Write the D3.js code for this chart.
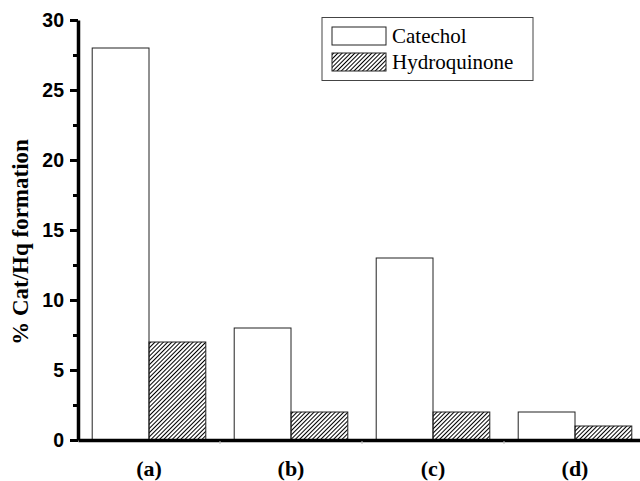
<!DOCTYPE html>
<html>
<head>
<meta charset="utf-8">
<script src="https://cdn.jsdelivr.net/npm/d3@7"></script>
<style>
  body { margin: 0; background: #fff; }
  svg { display: block; }
</style>
</head>
<body>
<div id="chart"></div>
<script>
// data
var categories = ["(a)", "(b)", "(c)", "(d)"];
var series = ["Catechol", "Hydroquinone"];
var catechol = [28, 8, 13, 2];
var hydroquinone = [7, 2, 2, 1];
var yTicks = [0, 5, 10, 15, 20, 25, 30];
var yMinorTicks = [2.5, 7.5, 12.5, 17.5, 22.5, 27.5];

var W = 640, H = 481;
var x0Left = 78, yBottom = 440, yTop = 20;

var svg = d3.select("#chart")
  .append("svg")
  .attr("width", W)
  .attr("height", H);

// hatch for Hydroquinone
var defs = svg.append("defs");
defs.append("pattern")
  .attr("id", "hatch")
  .attr("patternUnits", "userSpaceOnUse")
  .attr("width", 3)
  .attr("height", 3)
  .attr("patternTransform", "rotate(45)")
  .append("line")
  .attr("x1", 0.5).attr("y1", 0)
  .attr("x2", 0.5).attr("y2", 3)
  .attr("stroke", "#000")
  .attr("stroke-width", 1);

var y = d3.scaleLinear()
  .domain([0, 30])
  .range([yBottom, yTop]);

// groups, the last one runs past the right edge like in the original
var x = d3.scaleBand()
  .domain(categories)
  .range([x0Left, x0Left + 568])
  .paddingInner(0.2)
  .paddingOuter(0.1);

var xSub = d3.scaleBand()
  .domain(series)
  .range([0, x.bandwidth()]);

var fills = {"Catechol": "#fff", "Hydroquinone": "url(#hatch)"};
var values = {"Catechol": catechol, "Hydroquinone": hydroquinone};

// bars
series.forEach(function(s) {
  svg.append("g")
    .selectAll("rect")
    .data(categories)
    .enter()
    .append("rect")
    .attr("x", function(d) { return x(d) + xSub(s); })
    .attr("y", function(d, i) { return y(values[s][i]); })
    .attr("width", xSub.bandwidth())
    .attr("height", function(d, i) { return y(0) - y(values[s][i]); })
    .attr("fill", fills[s])
    .attr("stroke", "#222")
    .attr("stroke-width", 1);
});

// y axis
var yAxis = svg.append("g")
  .attr("transform", "translate(" + x0Left + ",0)")
  .call(d3.axisLeft(y).tickValues(yTicks).tickSize(8).tickSizeOuter(0).tickPadding(6));
yAxis.select(".domain").attr("stroke-width", 3.5);
yAxis.selectAll(".tick line").attr("stroke-width", 3);
yAxis.selectAll("text")
  .style("font-family", "Arial, 'Liberation Sans', sans-serif")
  .style("font-weight", "bold")
  .style("font-size", "19.5px")
  .attr("fill", "#000");

var yMinor = svg.append("g")
  .attr("transform", "translate(" + x0Left + ",0)")
  .call(d3.axisLeft(y).tickValues(yMinorTicks).tickSize(5).tickFormat(""));
yMinor.select(".domain").remove();
yMinor.selectAll(".tick line").attr("stroke-width", 3);

// x axis
var xAxis = svg.append("g")
  .attr("transform", "translate(0," + yBottom + ")")
  .call(d3.axisBottom(x).tickSize(0).tickSizeOuter(0).tickPadding(20));
xAxis.select(".domain").attr("stroke-width", 3.5);
xAxis.selectAll("text")
  .style("font-family", "'Times New Roman', 'Liberation Serif', serif")
  .style("font-weight", "bold")
  .style("font-size", "22px")
  .attr("fill", "#000");

// small ticks between the groups
svg.append("g")
  .selectAll("line")
  .data(categories.slice(1))
  .enter()
  .append("line")
  .attr("x1", function(d) { return x(d) - x.step() * x.paddingInner() / 2; })
  .attr("x2", function(d) { return x(d) - x.step() * x.paddingInner() / 2; })
  .attr("y1", yBottom + 1)
  .attr("y2", yBottom + 4)
  .attr("stroke", "#bbb");

// y label
svg.append("text")
  .attr("transform", "translate(28," + ((yTop + yBottom) / 2 + 12) + ") rotate(-90)")
  .attr("text-anchor", "middle")
  .style("font-family", "'Times New Roman', 'Liberation Serif', serif")
  .style("font-weight", "bold")
  .style("font-size", "23px")
  .text("% Cat/Hq formation");

// legend
var legend = svg.append("g");
legend.append("rect")
  .attr("x", 322).attr("y", 17.5)
  .attr("width", 211).attr("height", 63)
  .attr("fill", "#fff")
  .attr("stroke", "#444")
  .attr("stroke-width", 1);

series.forEach(function(s, i) {
  legend.append("rect")
    .attr("x", 332).attr("y", 27 + i * 26)
    .attr("width", 54).attr("height", 18)
    .attr("fill", fills[s])
    .attr("stroke", "#222");
  legend.append("text")
    .attr("x", 392).attr("y", 43 + i * 26)
    .style("font-family", "'Times New Roman', 'Liberation Serif', serif")
    .style("font-size", "21px")
    .text(s);
});
</script>
</body>
</html>
